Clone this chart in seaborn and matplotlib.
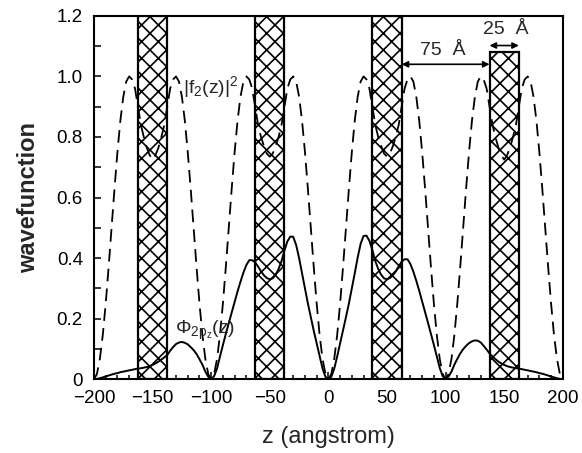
import matplotlib

matplotlib.use("Agg")
import matplotlib.pyplot as plt  # noqa: E402
import numpy as np  # noqa: E402
import pandas as pd  # noqa: E402
import seaborn as sns  # noqa: E402
from matplotlib.ticker import MultipleLocator  # noqa: E402

# sample positions along z (angstrom), every 2.5 A
Z_POSITIONS = np.linspace(-200, 200, 161)

# |f2(z)|^2, dashed curve
F2_SQUARED = [
    0, 0.017, 0.067, 0.146, 0.25, 0.371, 0.5, 0.629, 0.75, 0.854, 0.933, 0.983, 1.0, 0.99, 0.96, 0.90,
    0.84, 0.80, 0.765, 0.74, 0.725, 0.74, 0.765, 0.80, 0.84,
    0.90, 0.96, 0.99, 1.0, 0.983, 0.933, 0.854, 0.75, 0.629, 0.5, 0.371, 0.25, 0.146, 0.067, 0.017, 0,
    0.017, 0.067, 0.146, 0.25, 0.371, 0.5, 0.629, 0.75, 0.854, 0.933, 0.983, 1.0, 0.99, 0.96, 0.90,
    0.84, 0.80, 0.77, 0.745, 0.735, 0.745, 0.77, 0.80, 0.84,
    0.90, 0.96, 0.99, 1.0, 0.983, 0.933, 0.854, 0.75, 0.629, 0.5, 0.371, 0.25, 0.146, 0.067, 0.017, 0,
    0.017, 0.067, 0.146, 0.25, 0.371, 0.5, 0.629, 0.75, 0.854, 0.933, 0.983, 1.0, 0.99, 0.96, 0.90,
    0.84, 0.80, 0.77, 0.745, 0.735, 0.745, 0.77, 0.80, 0.84,
    0.90, 0.96, 0.99, 1.0, 0.983, 0.933, 0.854, 0.75, 0.629, 0.5, 0.371, 0.25, 0.146, 0.067, 0.017, 0,
    0.017, 0.067, 0.146, 0.25, 0.371, 0.5, 0.629, 0.75, 0.854, 0.933, 0.983, 1.0, 0.99, 0.96, 0.90,
    0.84, 0.80, 0.765, 0.74, 0.725, 0.74, 0.765, 0.80, 0.84,
    0.90, 0.96, 0.99, 1.0, 0.983, 0.933, 0.854, 0.75, 0.629, 0.5, 0.371, 0.25, 0.146, 0.067, 0.017, 0,
]

# Phi_2pz(z), solid curve
PHI_2PZ = [
    0, 0.001, 0.003, 0.006, 0.009, 0.012, 0.015, 0.018, 0.02, 0.023, 0.025, 0.027, 0.029, 0.031, 0.033, 0.035,
    0.036, 0.038, 0.04, 0.043, 0.047, 0.052, 0.058, 0.065, 0.072,
    0.08, 0.094, 0.106, 0.116, 0.121, 0.123, 0.12, 0.115, 0.106, 0.096, 0.083, 0.066, 0.048, 0.025, 0.008, 0,
    0.01, 0.035, 0.075, 0.113, 0.15, 0.185, 0.22, 0.255, 0.29, 0.322, 0.352, 0.377, 0.393, 0.393, 0.386,
    0.372, 0.356, 0.343, 0.334, 0.33, 0.333, 0.345, 0.364, 0.39,
    0.425, 0.455, 0.471, 0.47, 0.443, 0.4, 0.35, 0.3, 0.25, 0.205, 0.16, 0.118, 0.075, 0.035, 0.008, 0,
    0.008, 0.035, 0.075, 0.118, 0.16, 0.205, 0.25, 0.3, 0.35, 0.402, 0.447, 0.473, 0.474, 0.457, 0.427,
    0.39, 0.364, 0.345, 0.333, 0.33, 0.334, 0.343, 0.356, 0.373,
    0.388, 0.396, 0.396, 0.38, 0.355, 0.325, 0.292, 0.257, 0.222, 0.186, 0.15, 0.113, 0.075, 0.037, 0.01, 0,
    0.008, 0.025, 0.048, 0.067, 0.085, 0.099, 0.11, 0.119, 0.125, 0.128, 0.127, 0.121, 0.11, 0.098, 0.085,
    0.075, 0.066, 0.058, 0.052, 0.047, 0.043, 0.04, 0.038, 0.036,
    0.035, 0.033, 0.031, 0.029, 0.027, 0.025, 0.023, 0.02, 0.018, 0.015, 0.012, 0.009, 0.006, 0.003, 0.001, 0,
]

# barriers (hatched)
BARRIER_CENTERS = [-150, -50, 50, 150]
BARRIER_HEIGHTS = [1.2, 1.2, 1.2, 1.08]
BARRIER_WIDTH = 25

X_TICKS = [-200, -150, -100, -50, 0, 50, 100, 150, 200]
Y_TICKS = [0, 0.2, 0.4, 0.6, 0.8, 1.0, 1.2]
Y_TICK_LABELS = ["0", "0.2", "0.4", "0.6", "0.8", "1.0", "1.2"]

sns.set_theme(style="ticks")
plt.rcParams["font.family"] = ["Liberation Sans", "DejaVu Sans"]
plt.rcParams["mathtext.fontset"] = "custom"
plt.rcParams["mathtext.rm"] = "Liberation Sans"
plt.rcParams["mathtext.it"] = "Liberation Sans"
plt.rcParams["mathtext.default"] = "regular"
plt.rcParams["hatch.linewidth"] = 1.2
plt.rcParams["hatch.color"] = "black"

df = pd.DataFrame({"z": Z_POSITIONS, "f2": F2_SQUARED, "phi": PHI_2PZ})

fig = plt.figure(figsize=(5.82, 4.53), dpi=100)
ax = fig.add_axes([0.1615, 0.163, 0.8055, 0.802])

ax.bar(BARRIER_CENTERS, BARRIER_HEIGHTS, width=BARRIER_WIDTH, color="white",
       edgecolor="black", hatch="xx", linewidth=1.6, zorder=1)

sns.lineplot(data=df, x="z", y="f2", ax=ax, color="black", linewidth=1.3,
             linestyle=(0, (7, 4)), estimator=None, sort=False, zorder=3)
sns.lineplot(data=df, x="z", y="phi", ax=ax, color="black", linewidth=1.4,
             estimator=None, sort=False, zorder=3)

# dimension arrows
arrow = dict(arrowstyle="<|-|>", color="black", lw=1.2, shrinkA=0, shrinkB=0, mutation_scale=9)
ax.annotate("", xy=(62.5, 1.04), xytext=(137.5, 1.04), arrowprops=arrow)
ax.annotate("", xy=(137.5, 1.102), xytext=(162.5, 1.102), arrowprops=arrow)
ax.text(97.6, 1.085, "75  Å", ha="center", va="center", fontsize=14)
ax.text(151, 1.154, "25  Å", ha="center", va="center", fontsize=14)

ax.text(-124, 0.965, r"$|f_2(z)|^2$", ha="left", va="center", fontsize=14)
ax.text(-131, 0.16, r"$\Phi_{2p_z}(z)$", ha="left", va="center", fontsize=14)

ax.set_xlim(-200, 200)
ax.set_ylim(0, 1.2)
ax.set_xticks(X_TICKS)
ax.set_yticks(Y_TICKS)
ax.set_yticklabels(Y_TICK_LABELS)
ax.xaxis.set_minor_locator(MultipleLocator(10))
ax.yaxis.set_minor_locator(MultipleLocator(0.1))
ax.tick_params(which="both", direction="in", top=False, right=False, width=1.1,
               labelsize=13.5, color="black", labelcolor="black")
ax.tick_params(axis="x", which="major", length=5, pad=8)
ax.tick_params(axis="x", which="minor", length=3)
ax.tick_params(axis="y", which="both", length=5, pad=8)

for spine in ax.spines.values():
    spine.set_visible(True)
    spine.set_color("black")
    spine.set_linewidth(1.5)

ax.set_xlabel("z (angstrom)", fontsize=17)
ax.set_ylabel("wavefunction", fontsize=17, fontweight="bold")
ax.xaxis.set_label_coords(0.5, -0.13)
ax.xaxis.label.set_verticalalignment("top")
ax.yaxis.set_label_coords(-0.115, 0.5)

fig.savefig("out.png", dpi=100)
plt.close(fig)
